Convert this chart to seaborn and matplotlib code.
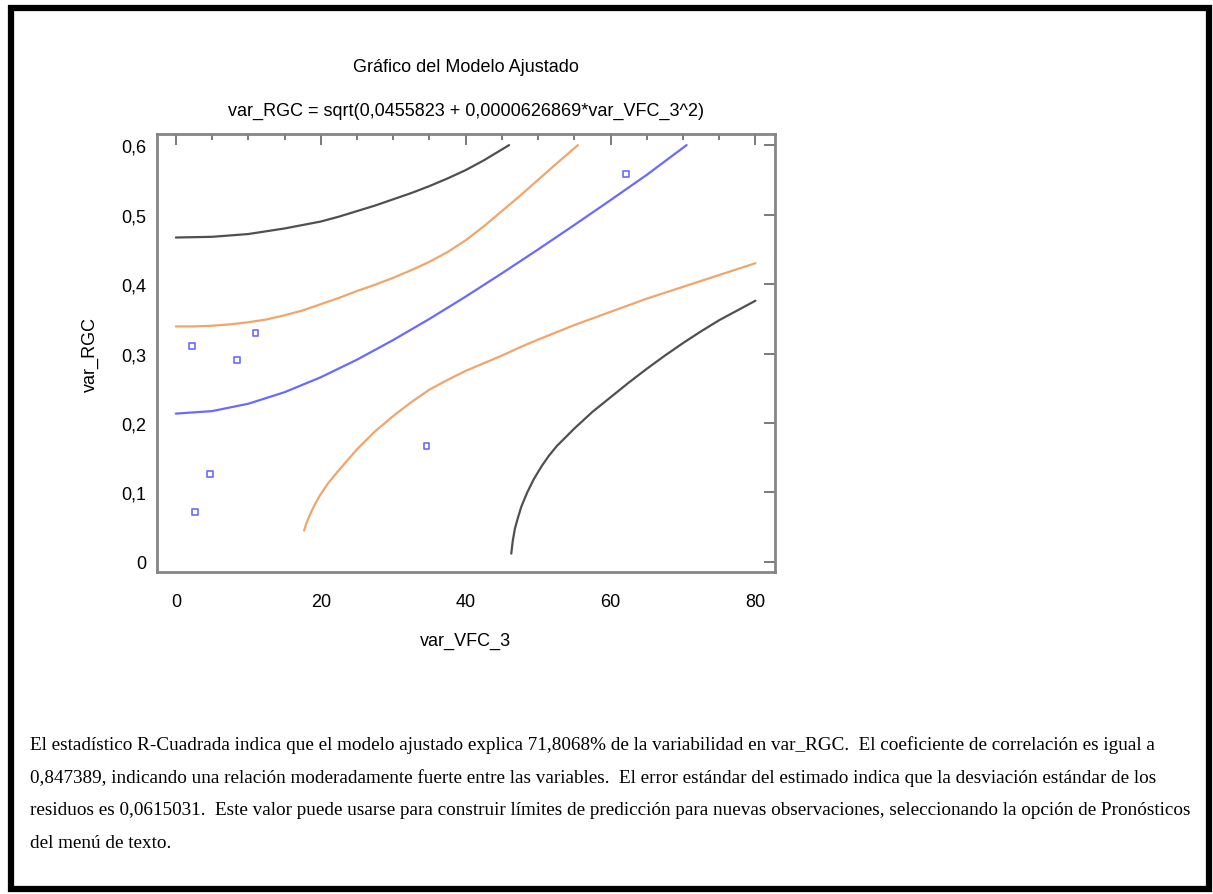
import matplotlib
matplotlib.use("Agg")
import matplotlib.pyplot as plt
import seaborn as sns
from matplotlib.patches import Rectangle
from matplotlib.ticker import MultipleLocator, FuncFormatter

# observed points
obs_x = [2.2, 8.5, 11.0, 4.7, 2.7, 34.6, 62.1]
obs_y = [0.311, 0.291, 0.329, 0.127, 0.072, 0.167, 0.558]

# fitted curve
fit_x = [0, 5, 10, 15, 20, 25, 30, 35, 40, 45, 50, 55, 60, 65, 70.5]
fit_y = [0.2135, 0.2171, 0.2277, 0.2443, 0.2658, 0.2911, 0.3194, 0.3498,
         0.3819, 0.4154, 0.4498, 0.4850, 0.5208, 0.5572, 0.600]

# confidence limits (orange)
conf_up_x = [0, 2.5, 5, 7.5, 10, 12.5, 15, 17.5, 20, 22.5, 25, 27.5, 30,
             32.5, 35, 37.5, 40, 42.5, 45, 47.5, 50, 52.5, 55.5]
conf_up_y = [0.339, 0.339, 0.340, 0.342, 0.345, 0.349, 0.355, 0.362, 0.371,
             0.380, 0.390, 0.399, 0.409, 0.420, 0.432, 0.446, 0.463, 0.483,
             0.505, 0.527, 0.550, 0.573, 0.600]
conf_lo_x = [17.7, 18.0, 18.6, 19.2, 19.9, 21, 22.5, 24, 25, 27.5, 30, 32.5,
             35, 37.5, 40, 42.5, 45, 47.5, 50, 55, 60, 65, 70, 75, 80]
conf_lo_y = [0.045, 0.055, 0.070, 0.083, 0.096, 0.113, 0.132, 0.150, 0.162,
             0.188, 0.210, 0.230, 0.248, 0.262, 0.275, 0.286, 0.297, 0.309,
             0.320, 0.341, 0.360, 0.379, 0.396, 0.413, 0.430]

# prediction limits (gray)
pred_up_x = [0, 5, 10, 15, 20, 22.5, 25, 27.5, 30, 32.5, 35, 37.5, 40, 42.5, 46]
pred_up_y = [0.467, 0.468, 0.472, 0.480, 0.490, 0.497, 0.505, 0.513, 0.522,
             0.531, 0.541, 0.552, 0.564, 0.578, 0.600]
pred_lo_x = [46.3, 46.5, 46.8, 47.2, 47.7, 48.5, 49.4, 50.5, 51.5, 52.6, 55,
             57.5, 60, 62.5, 65, 67.5, 70, 72.5, 75, 77.5, 80]
pred_lo_y = [0.012, 0.030, 0.048, 0.063, 0.080, 0.100, 0.119, 0.138, 0.153,
             0.167, 0.192, 0.216, 0.237, 0.258, 0.278, 0.297, 0.315, 0.332,
             0.348, 0.362, 0.376]

title_lines = ["Gráfico del Modelo Ajustado",
               "var_RGC = sqrt(0,0455823 + 0,0000626869*var_VFC_3^2)"]
body_lines = [
    "El estadístico R-Cuadrada indica que el modelo ajustado explica 71,8068% de la variabilidad en var_RGC.  El coeficiente de correlación es igual a",
    "0,847389, indicando una relación moderadamente fuerte entre las variables.  El error estándar del estimado indica que la desviación estándar de los",
    "residuos es 0,0615031.  Este valor puede usarse para construir límites de predicción para nuevas observaciones, seleccionando la opción de Pronósticos",
    "del menú de texto.",
]

sns.set_style("white")
plt.rcParams["font.family"] = ["Liberation Sans", "DejaVu Sans"]
plt.rcParams["text.color"] = "black"
plt.rcParams["axes.labelcolor"] = "black"
plt.rcParams["xtick.labelcolor"] = "black"
plt.rcParams["ytick.labelcolor"] = "black"

W, H = 1213, 895
fig = plt.figure(figsize=(W / 100, H / 100), dpi=100)
ax = fig.add_axes([157 / W, 1 - 573 / H, (775 - 157) / W, (573 - 135) / H])

gray = "#505050"
orange = "#f2a56a"
blue = "#6a6aff"

sns.lineplot(x=pred_up_x, y=pred_up_y, ax=ax, color=gray, lw=1.6, sort=False, estimator=None)
sns.lineplot(x=pred_lo_x, y=pred_lo_y, ax=ax, color=gray, lw=1.6, sort=False, estimator=None)
sns.lineplot(x=conf_up_x, y=conf_up_y, ax=ax, color=orange, lw=1.6, sort=False, estimator=None)
sns.lineplot(x=conf_lo_x, y=conf_lo_y, ax=ax, color=orange, lw=1.6, sort=False, estimator=None)
sns.lineplot(x=fit_x, y=fit_y, ax=ax, color=blue, lw=1.6, sort=False, estimator=None)
sns.scatterplot(x=obs_x, y=obs_y, ax=ax, marker="s", s=18, facecolors="none",
                edgecolor=blue, linewidth=1.2)

ax.set_xlim(-2.6, 82.7)
ax.set_ylim(-0.0145, 0.616)
ax.xaxis.set_major_locator(MultipleLocator(20))
ax.xaxis.set_minor_locator(MultipleLocator(5))
ax.yaxis.set_major_locator(MultipleLocator(0.1))
ax.yaxis.set_major_formatter(FuncFormatter(lambda v, p: f"{v:.1f}".replace(".", ",") if abs(v) > 1e-9 else "0"))

for s in ax.spines.values():
    s.set_color("#858585")
    s.set_linewidth(2)
ax.tick_params(which="both", direction="in", top=True, right=True, color="#707070", width=1.3)
ax.tick_params(which="major", length=8, labelsize=13)
ax.tick_params(which="minor", length=4)
ax.tick_params(axis="x", which="major", pad=15)
ax.tick_params(axis="y", which="major", pad=8)

ax.set_xlabel("var_VFC_3", fontsize=13, labelpad=16)
ax.set_ylabel("var_RGC", fontsize=13, labelpad=16)

fig.text(466 / W, 1 - 67 / H, title_lines[0], ha="center", va="center", fontsize=13)
fig.text(466 / W, 1 - 111 / H, title_lines[1], ha="center", va="center", fontsize=13)

for i, line in enumerate(body_lines):
    fig.text(30 / W, 1 - (745 + 32.7 * i) / H, line, ha="left", va="center",
             fontsize=13.75, family="Liberation Serif")

fig.patches.append(Rectangle((11 / W, 5 / H), (1209 - 11) / W, (886 - 5) / H,
                             transform=fig.transFigure, fill=False,
                             edgecolor="black", linewidth=4.5))

fig.savefig("out.png", dpi=100)
